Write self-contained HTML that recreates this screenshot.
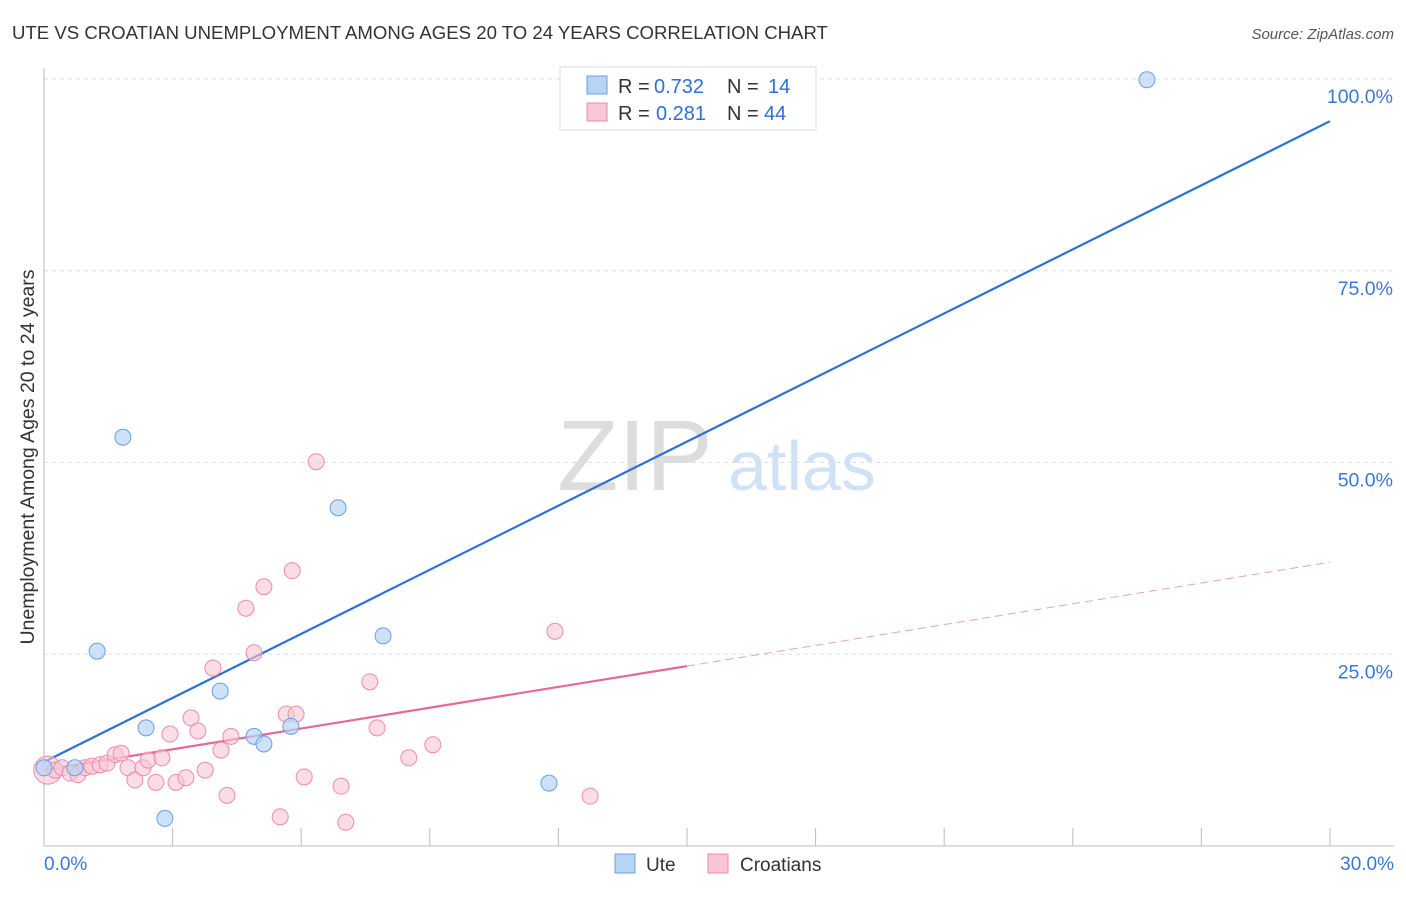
<!DOCTYPE html>
<html><head><meta charset="utf-8"><style>
body{margin:0;background:#fff;font-family:"Liberation Sans",sans-serif;}
svg text{font-family:"Liberation Sans",sans-serif;}
</style></head><body>
<svg id="chart" width="1406" height="892" xmlns="http://www.w3.org/2000/svg">
<text x="12" y="39" font-size="18.6" fill="#333">UTE VS CROATIAN UNEMPLOYMENT AMONG AGES 20 TO 24 YEARS CORRELATION CHART</text>
<text x="1394" y="39" font-size="15" fill="#555" font-style="italic" text-anchor="end">Source: ZipAtlas.com</text>
<g>
<text x="635" y="490" font-size="100" fill="#ddd" font-family="Liberation Serif, serif" text-anchor="middle">ZIP</text>
<text x="802" y="490" font-size="70" fill="#d2e2f5" text-anchor="middle">atlas</text>
</g>
<g id="grid"></g>
<g id="axes"></g>
<g id="lines"></g>
<g id="points"></g>
<text x="34" y="457" font-size="19.5" fill="#333" text-anchor="middle" transform="rotate(-90 34 457)">Unemployment Among Ages 20 to 24 years</text>
<g>
<rect x="560" y="67" width="256" height="63" fill="#fff" stroke="#ddd"/>
<rect x="587" y="76" width="20" height="18" fill="#b8d4f5" stroke="#6a9fe0"/>
<rect x="587" y="103" width="20" height="18" fill="#f9c6d6" stroke="#f08aab"/>
<text x="618" y="93" font-size="20" fill="#333">R =</text>
<text x="654" y="93" font-size="20" fill="#2f6fd6">0.732</text>
<text x="727" y="93" font-size="20" fill="#333">N =</text>
<text x="768" y="93" font-size="20" fill="#2f6fd6">14</text>
<text x="618" y="120" font-size="20" fill="#333">R =</text>
<text x="656" y="120" font-size="20" fill="#2f6fd6">0.281</text>
<text x="727" y="120" font-size="20" fill="#333">N =</text>
<text x="764" y="120" font-size="20" fill="#2f6fd6">44</text>
</g>
<g>
<rect x="615" y="854" width="20" height="19" fill="#b8d4f5" stroke="#6a9fe0"/>
<text x="646" y="871" font-size="19" fill="#333">Ute</text>
<rect x="708" y="854" width="20" height="19" fill="#f9c6d6" stroke="#f08aab"/>
<text x="740" y="871" font-size="19" fill="#333">Croatians</text>
</g>
</svg>
<script>
const uteX=[0,0.72,1.84,1.24,2.38,2.82,4.11,4.9,5.13,5.76,6.86,7.91,11.78,25.73];
const uteY=[10.2,10.2,53.3,25.4,15.4,3.6,20.2,14.3,13.3,15.6,44.1,27.4,8.2,99.9];
const croX=[0.09,0.26,0.42,0.61,0.79,0.96,1.12,1.31,1.47,1.66,1.8,1.96,2.12,2.31,2.43,2.61,2.75,2.94,3.08,3.31,3.43,3.59,3.76,3.94,4.13,4.27,4.36,4.71,4.9,5.13,5.51,5.65,5.79,5.88,6.07,6.35,6.93,7.04,7.6,7.77,8.51,9.07,11.92,12.74];
const croY=[9.9,9.9,10.2,9.5,9.3,10.2,10.4,10.6,10.8,11.9,12.1,10.2,8.6,10.2,11.2,8.3,11.5,14.6,8.3,8.9,16.7,15.0,9.9,23.2,12.5,6.6,14.3,31.0,25.2,33.8,3.8,17.2,35.9,17.2,9.0,50.1,7.8,3.1,21.4,15.4,11.5,13.2,28.0,6.5];
const uteLine=[10.95,94.5];
const croLine=[9.9,37.0];
const croSolidEnd=15;
const yTicks=[25,50,75,100];
const yTickLabels=["25.0%","50.0%","75.0%","100.0%"];
const xTicks=[0,3,6,9,12,15,18,21,24,27,30];
const NS="http://www.w3.org/2000/svg";
const X=v=>44+v/30*1286, Y=v=>846-v/100*767;
function mk(tag,attrs,parent){const e=document.createElementNS(NS,tag);for(const k in attrs)e.setAttribute(k,attrs[k]);document.getElementById(parent).appendChild(e);return e;}
yTicks.forEach((t,i)=>{
 const g=mk('line',{x1:44,x2:1394,y1:Y(t),y2:Y(t),stroke:'#ddd','stroke-dasharray':'4,4'},'grid');
 
 
 const l=mk('text',{x:1393,y:Y(t)+24,'font-size':19.5,fill:'#3a78d8','text-anchor':'end'},'axes');
 l.textContent=yTickLabels[i];
 
 
});
const ax=mk('line',{x1:44,x2:1394,y1:846,y2:846,stroke:'#bbb'},'axes');


const ay=mk('line',{x1:44,x2:44,y1:68,y2:846,stroke:'#bbb'},'axes');


xTicks.forEach(t=>{const e=mk('line',{x1:X(t),x2:X(t),y1:828,y2:846,stroke:'#bbb'},'axes');
 
 });
[[0,"0.0%","start",44],[30,"30.0%","end",1394]].forEach(a=>{const e=mk('text',{x:a[3],y:870,'font-size':19,fill:'#3a78d8','text-anchor':a[2]},'axes');e.textContent=a[1];
 
 });
const bl=mk('line',{x1:X(0),y1:Y(uteLine[0]),x2:X(30),y2:Y(uteLine[1]),stroke:'#2a72d6','stroke-width':2.2},'lines');


const cy=v=>croLine[0]+(croLine[1]-croLine[0])*v/30;
const pl=mk('line',{x1:X(0),y1:Y(cy(0)),x2:X(croSolidEnd),y2:Y(cy(croSolidEnd)),stroke:'#e8679a','stroke-width':2.2},'lines');


const pd=mk('line',{x1:X(croSolidEnd),y1:Y(cy(croSolidEnd)),x2:X(30),y2:Y(cy(30)),stroke:'#e8a0ba','stroke-width':1,'stroke-dasharray':'8,5'},'lines');


croX.forEach((x,i)=>{const c=mk('circle',{cx:X(x),cy:Y(croY[i]),r:i==0?14:8,fill:'#f9c6d6','fill-opacity':0.6,stroke:'#f08aab','stroke-width':1},'points');
 
 });
uteX.forEach((x,i)=>{const c=mk('circle',{cx:X(x),cy:Y(uteY[i]),r:8,fill:'#b8d4f5','fill-opacity':0.7,stroke:'#6a9fe0','stroke-width':1},'points');
 
 });
</script>
</body></html>
